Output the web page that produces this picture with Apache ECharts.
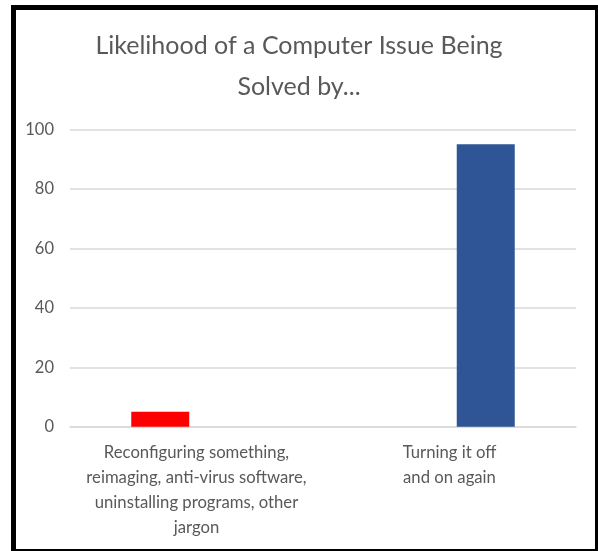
<!DOCTYPE html>
<html>
<head>
<meta charset="utf-8">
<script src="https://cdn.jsdelivr.net/npm/echarts@6/dist/echarts.min.js"></script>
<style>
html,body{margin:0;padding:0;width:598px;height:551px;overflow:hidden;background:#fff;}
#frame{position:absolute;left:11px;top:5px;width:579px;height:539px;border:5px solid #000;box-sizing:content-box;}
#chart{position:absolute;left:0;top:0;width:598px;height:551px;}
</style>
</head>
<body>
<div id="frame"></div>
<div id="chart"></div>
<script>
var titleText = 'Likelihood of a Computer Issue Being\nSolved by...';
var categories = ['Reconfiguring something,\nreimaging, anti-virus software,\nuninstalling programs, other\njargon', 'Turning it off\nand on again'];
var seriesA = [5, 0];
var seriesB = [0, 95];
var yTicks = {min: 0, max: 100, interval: 20};

var chart = echarts.init(document.getElementById('chart'));
chart.setOption({
  animation: false,
  title: {
    text: titleText,
    left: 'center',
    top: 25,
    padding: [0, 0, 0, 16],
    textStyle: {fontFamily: 'Lato', fontWeight: 'normal', fontSize: 25, color: '#595959', lineHeight: 41}
  },
  grid: {left: 70, right: 22, top: 129.5, bottom: 124.3, containLabel: false},
  xAxis: {
    type: 'category',
    data: categories,
    axisTick: {show: false},
    axisLine: {lineStyle: {color: '#d9d9d9', width: 1.5}},
    axisLabel: {fontFamily: 'Lato', fontSize: 16.7, color: '#595959', lineHeight: 25, margin: 13, interval: 0}
  },
  yAxis: {
    type: 'value',
    min: yTicks.min, max: yTicks.max, interval: yTicks.interval,
    axisLine: {show: false},
    axisTick: {show: false},
    splitLine: {lineStyle: {color: '#d9d9d9', width: 1.5}},
    axisLabel: {fontFamily: 'Lato', fontSize: 16.5, color: '#595959', margin: 16}
  },
  series: [
    {type: 'bar', data: seriesA, barWidth: 58, barGap: '25%', itemStyle: {color: '#ff0000'}},
    {type: 'bar', data: seriesB, barWidth: 58, barGap: '25%', itemStyle: {color: '#2f5597'}}
  ]
});
</script>
</body>
</html>
